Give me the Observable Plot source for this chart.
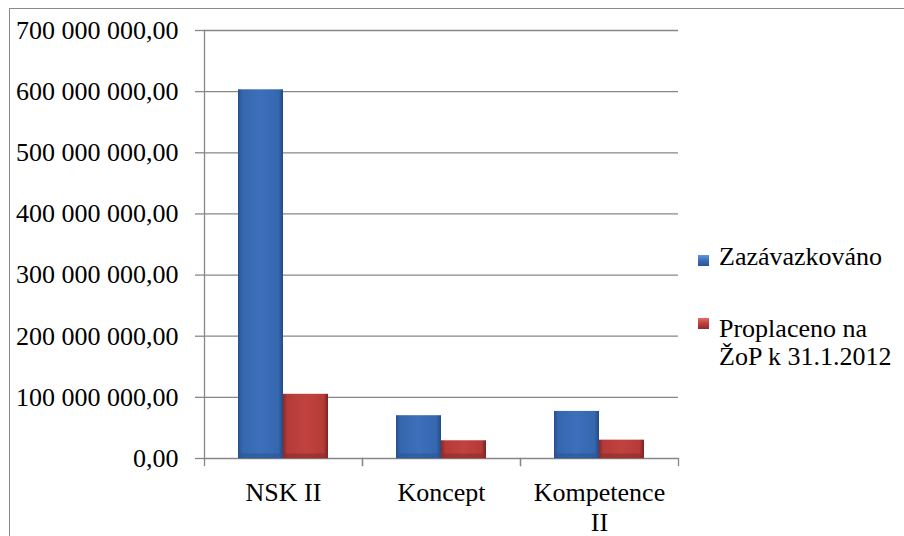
<!DOCTYPE html>
<html>
<head>
<meta charset="utf-8">
<script src="https://cdn.jsdelivr.net/npm/d3@7"></script>
<script src="https://cdn.jsdelivr.net/npm/@observablehq/plot@0.6"></script>
<style>
  html, body { margin: 0; padding: 0; background: #fff; }
  #wrap { position: relative; width: 904px; height: 536px; overflow: hidden; color: #000; }
  #border { position: absolute; left: 9px; top: 8px; width: 920px; height: 560px;
            border-left: 1.5px solid #8a8a8a; border-top: 1.5px solid #8a8a8a; }
  #chart { position: absolute; left: 0; top: 0; }
  .lg-item { position: absolute; left: 719px; white-space: nowrap; }
  .lg-sw { position: absolute; left: 698px; width: 11px; height: 11px; }
</style>
</head>
<body>
<div id="wrap">
  <div id="border"></div>
  <div id="chart"></div>
  <div id="legend"></div>
</div>
<script>
// ---- data ----
const categories = ["NSK II", "Koncept", "Kompetence II"];
const categoryTickLabels = ["NSK II", "Koncept", "Kompetence\nII"];
const seriesNames = ["Zazávazkováno", "Proplaceno na ŽoP k 31.1.2012"];
const legendLabels = ["Zazávazkováno", "Proplaceno na<br>ŽoP k 31.1.2012"];
const committed = [603000000, 70000000, 77000000];
const paid = [105000000, 29000000, 30000000];
const yTicks = [0, 100000000, 200000000, 300000000, 400000000, 500000000, 600000000, 700000000];

// ---- table ----
const rows = [];
categories.forEach((c, i) => {
  rows.push({category: c, series: seriesNames[0], value: committed[i]});
  rows.push({category: c, series: seriesNames[1], value: paid[i]});
});
const labelMap = new Map(categories.map((c, i) => [c, categoryTickLabels[i]]));

const locale = d3.formatLocale({decimal: ",", thousands: " ", grouping: [3], currency: ["", ""]});
const fmt = locale.format(",.2f");

// ---- pick an installed Times-like serif and size it to the reference text width ----
const ctx = document.createElement("canvas").getContext("2d");
function available(name) {
  const s = "700 000 000,00 Kompetence ŽoP";
  for (const fb of ["monospace", "sans-serif"]) {
    ctx.font = `40px ${fb}`; const a = ctx.measureText(s).width;
    ctx.font = `40px "${name}", ${fb}`; const b = ctx.measureText(s).width;
    if (Math.abs(a - b) > 0.5) return true;
  }
  return false;
}
const candidates = ["Liberation Serif", "Tinos", "Times New Roman", "Nimbus Roman", "Nimbus Roman No9 L", "FreeSerif", "DejaVu Serif", "Noto Serif"];
const family = candidates.find(available) || "serif";
ctx.font = `24px "${family}"`;
const refW = ctx.measureText("700 000 000,00").width;
const fontPx = Math.max(16, Math.min(26, 24 * 165 / refW));
const fontCss = `"${family}", serif`;

const W = 904, H = 536, mt = 30, mb = 78, ml = 204, mr = 226;
const frameH = H - mt - mb;
const gray = "#878787";

const chart = Plot.plot({
  width: W, height: H,
  marginLeft: ml, marginRight: mr, marginTop: mt, marginBottom: mb,
  style: {fontFamily: fontCss, fontSize: fontPx + "px", background: "transparent", overflow: "visible", color: "#000"},
  fx: {domain: categories, padding: 0, label: null},
  x: {domain: seriesNames, paddingInner: 0, paddingOuter: 0.72, axis: null},
  y: {domain: [0, 700000000]},
  marks: [
    Plot.gridY(yTicks, {stroke: gray, strokeOpacity: 1, strokeWidth: 1.3}),
    Plot.frame({anchor: "left", facetAnchor: "left", stroke: gray, strokeWidth: 1.3}),
    Plot.frame({anchor: "left", stroke: gray, strokeWidth: 1.3, insetTop: frameH, insetBottom: -7}),
    Plot.frame({anchor: "right", stroke: gray, strokeWidth: 1.3, insetTop: frameH, insetBottom: -7}),
    Plot.axisY({ticks: yTicks, tickSize: 9, tickPadding: 17, tickFormat: fmt, stroke: gray, strokeWidth: 1.3, fill: "#000", label: null}),
    Plot.axisFx({anchor: "bottom", tickSize: 0, tickPadding: 21, tickFormat: d => labelMap.get(d), lineHeight: 1.15, fill: "#000", label: null}),
    // bars
    Plot.barY(rows, {filter: d => d.series === seriesNames[0], fx: "category", x: "series", y: "value", fill: "url(#gBlue)"}),
    Plot.barY(rows, {filter: d => d.series === seriesNames[1], fx: "category", x: "series", y: "value", fill: "url(#gRed)"}),
    // bevel highlights at top of bars
    Plot.tickY(rows, {filter: d => d.series === seriesNames[0], fx: "category", x: "series", y: "value", stroke: "url(#gBlueTop)", strokeWidth: 7, dy: 3.5}),
    Plot.tickY(rows, {filter: d => d.series === seriesNames[1], fx: "category", x: "series", y: "value", stroke: "url(#gRedTop)", strokeWidth: 7, dy: 3.5}),
    // bevel shade at bottom of bars
    Plot.tickY(rows, {filter: d => d.series === seriesNames[0], fx: "category", x: "series", y: 0, stroke: "#2a5594", strokeOpacity: 0.6, strokeWidth: 5, dy: -2.5}),
    Plot.tickY(rows, {filter: d => d.series === seriesNames[1], fx: "category", x: "series", y: 0, stroke: "#8e2b29", strokeOpacity: 0.6, strokeWidth: 5, dy: -2.5})
  ]
});

const svg = chart.tagName.toLowerCase() === "svg" ? chart : chart.querySelector("svg");
const ns = "http://www.w3.org/2000/svg";
const defs = document.createElementNS(ns, "defs");
function grad(id, stops) {
  const g = document.createElementNS(ns, "linearGradient");
  g.setAttribute("id", id);
  g.setAttribute("x1", "0"); g.setAttribute("x2", "1"); g.setAttribute("y1", "0"); g.setAttribute("y2", "0");
  stops.forEach(([o, c]) => {
    const s = document.createElementNS(ns, "stop");
    s.setAttribute("offset", o); s.setAttribute("stop-color", c);
    g.appendChild(s);
  });
  defs.appendChild(g);
}
grad("gBlue", [["0%", "#26508e"], ["10%", "#3567ae"], ["50%", "#3c70bb"], ["90%", "#3567ae"], ["100%", "#234a84"]]);
grad("gRed", [["0%", "#8a2826"], ["10%", "#b53b38"], ["50%", "#c1423f"], ["90%", "#b53b38"], ["100%", "#7a2220"]]);
grad("gBlueTop", [["0%", "#3b6fb8"], ["12%", "#5f98e4"], ["88%", "#5f98e4"], ["100%", "#3b6fb8"]]);
grad("gRedTop", [["0%", "#b83d3a"], ["12%", "#e86b68"], ["88%", "#e86b68"], ["100%", "#b83d3a"]]);
svg.insertBefore(defs, svg.firstChild);

document.getElementById("chart").appendChild(chart);

// ---- legend ----
const legend = document.getElementById("legend");
legend.style.fontFamily = fontCss;
const swatchColors = [
  "linear-gradient(to bottom, #5f98e4 0%, #3c70bb 45%, #2a5594 100%)",
  "linear-gradient(to bottom, #e86b68 0%, #c1423f 45%, #8e2b29 100%)"
];
const lineH = Math.round(fontPx * 1.08);
const baselines = [265, 337];
const swatchTops = [255, 318];
seriesNames.forEach((s, i) => {
  const sw = document.createElement("div");
  sw.className = "lg-sw";
  sw.style.top = swatchTops[i] + "px";
  sw.style.background = swatchColors[i];
  legend.appendChild(sw);
  const t = document.createElement("div");
  t.className = "lg-item";
  t.style.fontSize = fontPx + "px";
  t.style.lineHeight = lineH + "px";
  t.innerHTML = legendLabels[i];
  legend.appendChild(t);
  // place so that first baseline matches the reference
  const probe = document.createElement("span");
  probe.style.cssText = "display:inline-block;width:0;height:0;vertical-align:baseline;";
  t.insertBefore(probe, t.firstChild);
  t.style.top = "0px";
  const base = probe.getBoundingClientRect().top - t.getBoundingClientRect().top;
  t.style.top = (baselines[i] - base) + "px";
});
</script>
</body>
</html>
